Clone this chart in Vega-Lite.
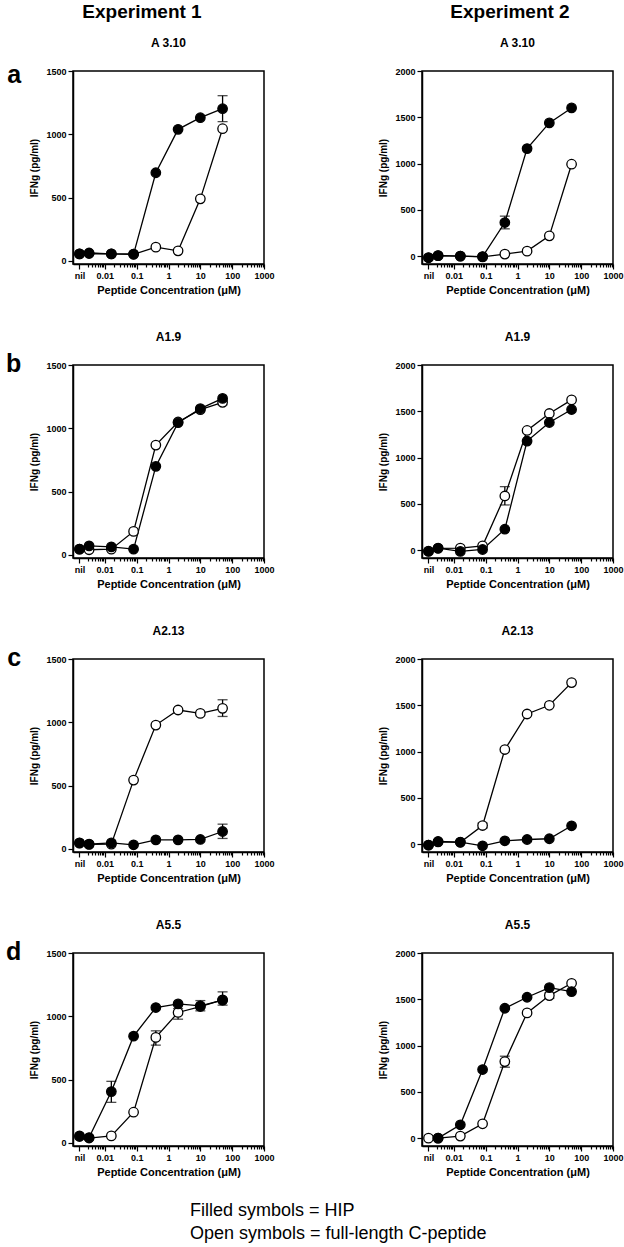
{
  "$schema": "https://vega.github.io/schema/vega-lite/v6.json",
  "background": "white",
  "padding": {"left": 5, "top": 3, "right": 5, "bottom": 5},
  "datasets": {
    "d": [
      {"exp":1,"clone":"A3.10","pep":"C","conc":0.0016,"v":55},
      {"exp":1,"clone":"A3.10","pep":"C","conc":0.0032,"v":58},
      {"exp":1,"clone":"A3.10","pep":"C","conc":0.016,"v":55},
      {"exp":1,"clone":"A3.10","pep":"C","conc":0.08,"v":52},
      {"exp":1,"clone":"A3.10","pep":"C","conc":0.4,"v":108},
      {"exp":1,"clone":"A3.10","pep":"C","conc":2,"v":79},
      {"exp":1,"clone":"A3.10","pep":"C","conc":10,"v":490},
      {"exp":1,"clone":"A3.10","pep":"C","conc":50,"v":1044},
      {"exp":1,"clone":"A3.10","pep":"HIP","conc":0.0016,"v":55},
      {"exp":1,"clone":"A3.10","pep":"HIP","conc":0.0032,"v":62},
      {"exp":1,"clone":"A3.10","pep":"HIP","conc":0.016,"v":55},
      {"exp":1,"clone":"A3.10","pep":"HIP","conc":0.08,"v":53},
      {"exp":1,"clone":"A3.10","pep":"HIP","conc":0.4,"v":696},
      {"exp":1,"clone":"A3.10","pep":"HIP","conc":2,"v":1039},
      {"exp":1,"clone":"A3.10","pep":"HIP","conc":10,"v":1131},
      {"exp":1,"clone":"A3.10","pep":"HIP","conc":50,"v":1202,"lo":1100,"hi":1305},

      {"exp":2,"clone":"A3.10","pep":"C","conc":0.0016,"v":-15},
      {"exp":2,"clone":"A3.10","pep":"C","conc":0.0032,"v":5},
      {"exp":2,"clone":"A3.10","pep":"C","conc":0.016,"v":0},
      {"exp":2,"clone":"A3.10","pep":"C","conc":0.08,"v":-8},
      {"exp":2,"clone":"A3.10","pep":"C","conc":0.4,"v":22},
      {"exp":2,"clone":"A3.10","pep":"C","conc":2,"v":54},
      {"exp":2,"clone":"A3.10","pep":"C","conc":10,"v":219},
      {"exp":2,"clone":"A3.10","pep":"C","conc":50,"v":993},
      {"exp":2,"clone":"A3.10","pep":"HIP","conc":0.0016,"v":-18},
      {"exp":2,"clone":"A3.10","pep":"HIP","conc":0.0032,"v":5},
      {"exp":2,"clone":"A3.10","pep":"HIP","conc":0.016,"v":0},
      {"exp":2,"clone":"A3.10","pep":"HIP","conc":0.08,"v":-5},
      {"exp":2,"clone":"A3.10","pep":"HIP","conc":0.4,"v":363,"lo":295,"hi":432},
      {"exp":2,"clone":"A3.10","pep":"HIP","conc":2,"v":1162},
      {"exp":2,"clone":"A3.10","pep":"HIP","conc":10,"v":1439},
      {"exp":2,"clone":"A3.10","pep":"HIP","conc":50,"v":1601},

      {"exp":1,"clone":"A1.9","pep":"C","conc":0.0016,"v":45},
      {"exp":1,"clone":"A1.9","pep":"C","conc":0.0032,"v":40},
      {"exp":1,"clone":"A1.9","pep":"C","conc":0.016,"v":45},
      {"exp":1,"clone":"A1.9","pep":"C","conc":0.08,"v":185},
      {"exp":1,"clone":"A1.9","pep":"C","conc":0.4,"v":867},
      {"exp":1,"clone":"A1.9","pep":"C","conc":2,"v":1050},
      {"exp":1,"clone":"A1.9","pep":"C","conc":10,"v":1147},
      {"exp":1,"clone":"A1.9","pep":"C","conc":50,"v":1205,"lo":1185,"hi":1225},
      {"exp":1,"clone":"A1.9","pep":"HIP","conc":0.0016,"v":45},
      {"exp":1,"clone":"A1.9","pep":"HIP","conc":0.0032,"v":71},
      {"exp":1,"clone":"A1.9","pep":"HIP","conc":0.016,"v":63},
      {"exp":1,"clone":"A1.9","pep":"HIP","conc":0.08,"v":45},
      {"exp":1,"clone":"A1.9","pep":"HIP","conc":0.4,"v":699},
      {"exp":1,"clone":"A1.9","pep":"HIP","conc":2,"v":1044},
      {"exp":1,"clone":"A1.9","pep":"HIP","conc":10,"v":1155},
      {"exp":1,"clone":"A1.9","pep":"HIP","conc":50,"v":1236},

      {"exp":2,"clone":"A1.9","pep":"C","conc":0.0016,"v":-10},
      {"exp":2,"clone":"A1.9","pep":"C","conc":0.0032,"v":20},
      {"exp":2,"clone":"A1.9","pep":"C","conc":0.016,"v":22},
      {"exp":2,"clone":"A1.9","pep":"C","conc":0.08,"v":47},
      {"exp":2,"clone":"A1.9","pep":"C","conc":0.4,"v":585,"lo":488,"hi":686},
      {"exp":2,"clone":"A1.9","pep":"C","conc":2,"v":1293},
      {"exp":2,"clone":"A1.9","pep":"C","conc":10,"v":1476},
      {"exp":2,"clone":"A1.9","pep":"C","conc":50,"v":1623},
      {"exp":2,"clone":"A1.9","pep":"HIP","conc":0.0016,"v":-14},
      {"exp":2,"clone":"A1.9","pep":"HIP","conc":0.0032,"v":22},
      {"exp":2,"clone":"A1.9","pep":"HIP","conc":0.016,"v":-14},
      {"exp":2,"clone":"A1.9","pep":"HIP","conc":0.08,"v":7},
      {"exp":2,"clone":"A1.9","pep":"HIP","conc":0.4,"v":226},
      {"exp":2,"clone":"A1.9","pep":"HIP","conc":2,"v":1178},
      {"exp":2,"clone":"A1.9","pep":"HIP","conc":10,"v":1379},
      {"exp":2,"clone":"A1.9","pep":"HIP","conc":50,"v":1519},

      {"exp":1,"clone":"A2.13","pep":"C","conc":0.0016,"v":45},
      {"exp":1,"clone":"A2.13","pep":"C","conc":0.0032,"v":35},
      {"exp":1,"clone":"A2.13","pep":"C","conc":0.016,"v":37},
      {"exp":1,"clone":"A2.13","pep":"C","conc":0.08,"v":543},
      {"exp":1,"clone":"A2.13","pep":"C","conc":0.4,"v":978},
      {"exp":1,"clone":"A2.13","pep":"C","conc":2,"v":1097},
      {"exp":1,"clone":"A2.13","pep":"C","conc":10,"v":1070},
      {"exp":1,"clone":"A2.13","pep":"C","conc":50,"v":1110,"lo":1046,"hi":1178},
      {"exp":1,"clone":"A2.13","pep":"HIP","conc":0.0016,"v":47},
      {"exp":1,"clone":"A2.13","pep":"HIP","conc":0.0032,"v":37},
      {"exp":1,"clone":"A2.13","pep":"HIP","conc":0.016,"v":47},
      {"exp":1,"clone":"A2.13","pep":"HIP","conc":0.08,"v":32},
      {"exp":1,"clone":"A2.13","pep":"HIP","conc":0.4,"v":71},
      {"exp":1,"clone":"A2.13","pep":"HIP","conc":2,"v":71},
      {"exp":1,"clone":"A2.13","pep":"HIP","conc":10,"v":74},
      {"exp":1,"clone":"A2.13","pep":"HIP","conc":50,"v":137,"lo":82,"hi":195},

      {"exp":2,"clone":"A2.13","pep":"C","conc":0.0016,"v":-10},
      {"exp":2,"clone":"A2.13","pep":"C","conc":0.0032,"v":25},
      {"exp":2,"clone":"A2.13","pep":"C","conc":0.016,"v":20},
      {"exp":2,"clone":"A2.13","pep":"C","conc":0.08,"v":201,"lo":175,"hi":228},
      {"exp":2,"clone":"A2.13","pep":"C","conc":0.4,"v":1022},
      {"exp":2,"clone":"A2.13","pep":"C","conc":2,"v":1406},
      {"exp":2,"clone":"A2.13","pep":"C","conc":10,"v":1500},
      {"exp":2,"clone":"A2.13","pep":"C","conc":50,"v":1745},
      {"exp":2,"clone":"A2.13","pep":"HIP","conc":0.0016,"v":-11},
      {"exp":2,"clone":"A2.13","pep":"HIP","conc":0.0032,"v":29},
      {"exp":2,"clone":"A2.13","pep":"HIP","conc":0.016,"v":22},
      {"exp":2,"clone":"A2.13","pep":"HIP","conc":0.08,"v":-18},
      {"exp":2,"clone":"A2.13","pep":"HIP","conc":0.4,"v":36},
      {"exp":2,"clone":"A2.13","pep":"HIP","conc":2,"v":50},
      {"exp":2,"clone":"A2.13","pep":"HIP","conc":10,"v":58},
      {"exp":2,"clone":"A2.13","pep":"HIP","conc":50,"v":198},

      {"exp":1,"clone":"A5.5","pep":"C","conc":0.0016,"v":50},
      {"exp":1,"clone":"A5.5","pep":"C","conc":0.0032,"v":38},
      {"exp":1,"clone":"A5.5","pep":"C","conc":0.016,"v":55},
      {"exp":1,"clone":"A5.5","pep":"C","conc":0.08,"v":242},
      {"exp":1,"clone":"A5.5","pep":"C","conc":0.4,"v":833,"lo":772,"hi":885},
      {"exp":1,"clone":"A5.5","pep":"C","conc":2,"v":1030,"lo":977,"hi":1061},
      {"exp":1,"clone":"A5.5","pep":"C","conc":10,"v":1077},
      {"exp":1,"clone":"A5.5","pep":"C","conc":50,"v":1130},
      {"exp":1,"clone":"A5.5","pep":"HIP","conc":0.0016,"v":55},
      {"exp":1,"clone":"A5.5","pep":"HIP","conc":0.0032,"v":42},
      {"exp":1,"clone":"A5.5","pep":"HIP","conc":0.016,"v":405,"lo":320,"hi":486},
      {"exp":1,"clone":"A5.5","pep":"HIP","conc":0.08,"v":843},
      {"exp":1,"clone":"A5.5","pep":"HIP","conc":0.4,"v":1069},
      {"exp":1,"clone":"A5.5","pep":"HIP","conc":2,"v":1098},
      {"exp":1,"clone":"A5.5","pep":"HIP","conc":10,"v":1082,"lo":1043,"hi":1124},
      {"exp":1,"clone":"A5.5","pep":"HIP","conc":50,"v":1127,"lo":1088,"hi":1193},

      {"exp":2,"clone":"A5.5","pep":"C","conc":0.0016,"v":0},
      {"exp":2,"clone":"A5.5","pep":"C","conc":0.0032,"v":0},
      {"exp":2,"clone":"A5.5","pep":"C","conc":0.016,"v":22},
      {"exp":2,"clone":"A5.5","pep":"C","conc":0.08,"v":155},
      {"exp":2,"clone":"A5.5","pep":"C","conc":0.4,"v":827,"lo":766,"hi":885},
      {"exp":2,"clone":"A5.5","pep":"C","conc":2,"v":1353},
      {"exp":2,"clone":"A5.5","pep":"C","conc":10,"v":1540,"lo":1510,"hi":1570},
      {"exp":2,"clone":"A5.5","pep":"C","conc":50,"v":1673},
      {"exp":2,"clone":"A5.5","pep":"HIP","conc":0.0032,"v":0},
      {"exp":2,"clone":"A5.5","pep":"HIP","conc":0.016,"v":144},
      {"exp":2,"clone":"A5.5","pep":"HIP","conc":0.08,"v":741},
      {"exp":2,"clone":"A5.5","pep":"HIP","conc":0.4,"v":1403},
      {"exp":2,"clone":"A5.5","pep":"HIP","conc":2,"v":1522},
      {"exp":2,"clone":"A5.5","pep":"HIP","conc":10,"v":1626},
      {"exp":2,"clone":"A5.5","pep":"HIP","conc":50,"v":1583}
    ]
  },
  "data": {"name": "d"},
  "title": {
    "text": ["Filled symbols = HIP", "Open symbols = full-length C-peptide"],
    "orient": "bottom", "anchor": "start", "align": "left", "frame": "bounds",
    "fontSize": 18, "fontWeight": "normal", "lineHeight": 23.5, "offset": 24, "dx": 184, "color": "black", "font": "Liberation Sans"
  },
  "spacing": 34,
  "vconcat": [
    {
      "title": {"text": "a", "orient": "left", "anchor": "end", "angle": 0, "align": "left", "baseline": "alphabetic", "dy": 80, "fontSize": 25, "fontWeight": "bold", "offset": 8, "color": "black"},
      "spacing": 103,
      "hconcat": [
        {
          "title": {"text": "Experiment 1", "fontSize": 19, "fontWeight": "bold", "anchor": "middle", "frame": "bounds", "offset": 14, "dx": -10, "color": "black"},
          "vconcat": [
            {
              "width": 191, "height": 193,
              "title": {"text": "A 3.10", "fontSize": 12, "fontWeight": "bold", "offset": 17, "anchor": "middle", "frame": "group", "color": "black"},
              "transform": [{"filter": "datum.exp == 1 && datum.clone == 'A3.10'"}],
              "encoding": {
                "x": {"field": "conc", "type": "quantitative", "scale": {"type": "log", "domain": [0.001, 1000], "nice": false},
                  "axis": {"title": "Peptide Concentration (μM)", "values": [0.0016,0.003,0.004,0.005,0.006,0.007,0.008,0.009,0.01,0.02,0.03,0.04,0.05,0.06,0.07,0.08,0.09,0.1,0.2,0.3,0.4,0.5,0.6,0.7,0.8,0.9,1,2,3,4,5,6,7,8,9,10,20,30,40,50,60,70,80,90,100,200,300,400,500,600,700,800,900,1000],
                    "labelExpr": "datum.value < 0.002 ? 'nil' : datum.value == 0.01 ? '0.01' : datum.value == 0.1 ? '0.1' : datum.value == 1 ? '1' : datum.value == 10 ? '10' : datum.value == 100 ? '100' : datum.value == 1000 ? '1000' : ''",
                    "tickSize": {"condition": {"test": "datum.value < 0.002 || datum.value == 0.01 || datum.value == 0.1 || datum.value == 1 || datum.value == 10 || datum.value == 100 || datum.value == 1000", "value": 5}, "value": 3}}},
                "y": {"field": "v", "type": "quantitative", "title": "IFNg (pg/ml)", "scale": {"domain": [-25, 1500], "nice": false, "zero": false}, "axis": {"values": [0, 500, 1000, 1500], "format": "d"}}
              },
              "layer": [
                {"mark": {"type": "line", "color": "black", "strokeWidth": 1.3}, "encoding": {"detail": {"field": "pep"}}},
                {"transform": [{"filter": "isValid(datum.lo)"}], "mark": {"type": "errorbar", "color": "black", "thickness": 1.3, "ticks": {"size": 10, "color": "black"}}, "encoding": {"y": {"field": "lo", "type": "quantitative", "title": "IFNg (pg/ml)"}, "y2": {"field": "hi"}}},
                {"mark": {"type": "point", "shape": "circle", "filled": true, "size": 90, "stroke": "black", "strokeWidth": 1.3, "opacity": 1}, "encoding": {"fill": {"field": "pep", "type": "nominal", "scale": {"domain": ["C", "HIP"], "range": ["white", "black"]}, "legend": null}}}
              ]
            }
          ]
        },
        {
          "title": {"text": "Experiment 2", "fontSize": 19, "fontWeight": "bold", "anchor": "middle", "frame": "bounds", "offset": 14, "dx": 9, "color": "black"},
          "vconcat": [
            {
              "width": 191, "height": 193,
              "title": {"text": "A 3.10", "fontSize": 12, "fontWeight": "bold", "offset": 17, "anchor": "middle", "frame": "group", "color": "black"},
              "transform": [{"filter": "datum.exp == 2 && datum.clone == 'A3.10'"}],
              "encoding": {
                "x": {"field": "conc", "type": "quantitative", "scale": {"type": "log", "domain": [0.001, 1000], "nice": false},
                  "axis": {"title": "Peptide Concentration (μM)", "values": [0.0016,0.003,0.004,0.005,0.006,0.007,0.008,0.009,0.01,0.02,0.03,0.04,0.05,0.06,0.07,0.08,0.09,0.1,0.2,0.3,0.4,0.5,0.6,0.7,0.8,0.9,1,2,3,4,5,6,7,8,9,10,20,30,40,50,60,70,80,90,100,200,300,400,500,600,700,800,900,1000],
                    "labelExpr": "datum.value < 0.002 ? 'nil' : datum.value == 0.01 ? '0.01' : datum.value == 0.1 ? '0.1' : datum.value == 1 ? '1' : datum.value == 10 ? '10' : datum.value == 100 ? '100' : datum.value == 1000 ? '1000' : ''",
                    "tickSize": {"condition": {"test": "datum.value < 0.002 || datum.value == 0.01 || datum.value == 0.1 || datum.value == 1 || datum.value == 10 || datum.value == 100 || datum.value == 1000", "value": 5}, "value": 3}}},
                "y": {"field": "v", "type": "quantitative", "title": "IFNg (pg/ml)", "scale": {"domain": [-85, 2000], "nice": false, "zero": false}, "axis": {"values": [0, 500, 1000, 1500, 2000], "format": "d"}}
              },
              "layer": [
                {"mark": {"type": "line", "color": "black", "strokeWidth": 1.3}, "encoding": {"detail": {"field": "pep"}}},
                {"transform": [{"filter": "isValid(datum.lo)"}], "mark": {"type": "errorbar", "color": "black", "thickness": 1.3, "ticks": {"size": 10, "color": "black"}}, "encoding": {"y": {"field": "lo", "type": "quantitative", "title": "IFNg (pg/ml)"}, "y2": {"field": "hi"}}},
                {"mark": {"type": "point", "shape": "circle", "filled": true, "size": 90, "stroke": "black", "strokeWidth": 1.3, "opacity": 1}, "encoding": {"fill": {"field": "pep", "type": "nominal", "scale": {"domain": ["C", "HIP"], "range": ["white", "black"]}, "legend": null}}}
              ]
            }
          ]
        }
      ]
    },
    {
      "title": {"text": "b", "orient": "left", "anchor": "end", "angle": 0, "align": "left", "baseline": "alphabetic", "dy": 42, "fontSize": 25, "fontWeight": "bold", "offset": 8, "color": "black"},
      "spacing": 103,
      "hconcat": [
        {
          "width": 191, "height": 193,
          "title": {"text": "A1.9", "fontSize": 12, "fontWeight": "bold", "offset": 17, "anchor": "middle", "frame": "group", "color": "black"},
          "transform": [{"filter": "datum.exp == 1 && datum.clone == 'A1.9'"}],
          "encoding": {
            "x": {"field": "conc", "type": "quantitative", "scale": {"type": "log", "domain": [0.001, 1000], "nice": false},
              "axis": {"title": "Peptide Concentration (μM)", "values": [0.0016,0.003,0.004,0.005,0.006,0.007,0.008,0.009,0.01,0.02,0.03,0.04,0.05,0.06,0.07,0.08,0.09,0.1,0.2,0.3,0.4,0.5,0.6,0.7,0.8,0.9,1,2,3,4,5,6,7,8,9,10,20,30,40,50,60,70,80,90,100,200,300,400,500,600,700,800,900,1000],
                "labelExpr": "datum.value < 0.002 ? 'nil' : datum.value == 0.01 ? '0.01' : datum.value == 0.1 ? '0.1' : datum.value == 1 ? '1' : datum.value == 10 ? '10' : datum.value == 100 ? '100' : datum.value == 1000 ? '1000' : ''",
                "tickSize": {"condition": {"test": "datum.value < 0.002 || datum.value == 0.01 || datum.value == 0.1 || datum.value == 1 || datum.value == 10 || datum.value == 100 || datum.value == 1000", "value": 5}, "value": 3}}},
            "y": {"field": "v", "type": "quantitative", "title": "IFNg (pg/ml)", "scale": {"domain": [-25, 1500], "nice": false, "zero": false}, "axis": {"values": [0, 500, 1000, 1500], "format": "d"}}
          },
          "layer": [
            {"mark": {"type": "line", "color": "black", "strokeWidth": 1.3}, "encoding": {"detail": {"field": "pep"}}},
            {"transform": [{"filter": "isValid(datum.lo)"}], "mark": {"type": "errorbar", "color": "black", "thickness": 1.3, "ticks": {"size": 10, "color": "black"}}, "encoding": {"y": {"field": "lo", "type": "quantitative", "title": "IFNg (pg/ml)"}, "y2": {"field": "hi"}}},
            {"mark": {"type": "point", "shape": "circle", "filled": true, "size": 90, "stroke": "black", "strokeWidth": 1.3, "opacity": 1}, "encoding": {"fill": {"field": "pep", "type": "nominal", "scale": {"domain": ["C", "HIP"], "range": ["white", "black"]}, "legend": null}}}
          ]
        },
        {
          "width": 191, "height": 193,
          "title": {"text": "A1.9", "fontSize": 12, "fontWeight": "bold", "offset": 17, "anchor": "middle", "frame": "group", "color": "black"},
          "transform": [{"filter": "datum.exp == 2 && datum.clone == 'A1.9'"}],
          "encoding": {
            "x": {"field": "conc", "type": "quantitative", "scale": {"type": "log", "domain": [0.001, 1000], "nice": false},
              "axis": {"title": "Peptide Concentration (μM)", "values": [0.0016,0.003,0.004,0.005,0.006,0.007,0.008,0.009,0.01,0.02,0.03,0.04,0.05,0.06,0.07,0.08,0.09,0.1,0.2,0.3,0.4,0.5,0.6,0.7,0.8,0.9,1,2,3,4,5,6,7,8,9,10,20,30,40,50,60,70,80,90,100,200,300,400,500,600,700,800,900,1000],
                "labelExpr": "datum.value < 0.002 ? 'nil' : datum.value == 0.01 ? '0.01' : datum.value == 0.1 ? '0.1' : datum.value == 1 ? '1' : datum.value == 10 ? '10' : datum.value == 100 ? '100' : datum.value == 1000 ? '1000' : ''",
                "tickSize": {"condition": {"test": "datum.value < 0.002 || datum.value == 0.01 || datum.value == 0.1 || datum.value == 1 || datum.value == 10 || datum.value == 100 || datum.value == 1000", "value": 5}, "value": 3}}},
            "y": {"field": "v", "type": "quantitative", "title": "IFNg (pg/ml)", "scale": {"domain": [-85, 2000], "nice": false, "zero": false}, "axis": {"values": [0, 500, 1000, 1500, 2000], "format": "d"}}
          },
          "layer": [
            {"mark": {"type": "line", "color": "black", "strokeWidth": 1.3}, "encoding": {"detail": {"field": "pep"}}},
            {"transform": [{"filter": "isValid(datum.lo)"}], "mark": {"type": "errorbar", "color": "black", "thickness": 1.3, "ticks": {"size": 10, "color": "black"}}, "encoding": {"y": {"field": "lo", "type": "quantitative", "title": "IFNg (pg/ml)"}, "y2": {"field": "hi"}}},
            {"mark": {"type": "point", "shape": "circle", "filled": true, "size": 90, "stroke": "black", "strokeWidth": 1.3, "opacity": 1}, "encoding": {"fill": {"field": "pep", "type": "nominal", "scale": {"domain": ["C", "HIP"], "range": ["white", "black"]}, "legend": null}}}
          ]
        }
      ]
    },
    {
      "title": {"text": "c", "orient": "left", "anchor": "end", "angle": 0, "align": "left", "baseline": "alphabetic", "dy": 42, "fontSize": 25, "fontWeight": "bold", "offset": 8, "color": "black"},
      "spacing": 103,
      "hconcat": [
        {
          "width": 191, "height": 193,
          "title": {"text": "A2.13", "fontSize": 12, "fontWeight": "bold", "offset": 17, "anchor": "middle", "frame": "group", "color": "black"},
          "transform": [{"filter": "datum.exp == 1 && datum.clone == 'A2.13'"}],
          "encoding": {
            "x": {"field": "conc", "type": "quantitative", "scale": {"type": "log", "domain": [0.001, 1000], "nice": false},
              "axis": {"title": "Peptide Concentration (μM)", "values": [0.0016,0.003,0.004,0.005,0.006,0.007,0.008,0.009,0.01,0.02,0.03,0.04,0.05,0.06,0.07,0.08,0.09,0.1,0.2,0.3,0.4,0.5,0.6,0.7,0.8,0.9,1,2,3,4,5,6,7,8,9,10,20,30,40,50,60,70,80,90,100,200,300,400,500,600,700,800,900,1000],
                "labelExpr": "datum.value < 0.002 ? 'nil' : datum.value == 0.01 ? '0.01' : datum.value == 0.1 ? '0.1' : datum.value == 1 ? '1' : datum.value == 10 ? '10' : datum.value == 100 ? '100' : datum.value == 1000 ? '1000' : ''",
                "tickSize": {"condition": {"test": "datum.value < 0.002 || datum.value == 0.01 || datum.value == 0.1 || datum.value == 1 || datum.value == 10 || datum.value == 100 || datum.value == 1000", "value": 5}, "value": 3}}},
            "y": {"field": "v", "type": "quantitative", "title": "IFNg (pg/ml)", "scale": {"domain": [-25, 1500], "nice": false, "zero": false}, "axis": {"values": [0, 500, 1000, 1500], "format": "d"}}
          },
          "layer": [
            {"mark": {"type": "line", "color": "black", "strokeWidth": 1.3}, "encoding": {"detail": {"field": "pep"}}},
            {"transform": [{"filter": "isValid(datum.lo)"}], "mark": {"type": "errorbar", "color": "black", "thickness": 1.3, "ticks": {"size": 10, "color": "black"}}, "encoding": {"y": {"field": "lo", "type": "quantitative", "title": "IFNg (pg/ml)"}, "y2": {"field": "hi"}}},
            {"mark": {"type": "point", "shape": "circle", "filled": true, "size": 90, "stroke": "black", "strokeWidth": 1.3, "opacity": 1}, "encoding": {"fill": {"field": "pep", "type": "nominal", "scale": {"domain": ["C", "HIP"], "range": ["white", "black"]}, "legend": null}}}
          ]
        },
        {
          "width": 191, "height": 193,
          "title": {"text": "A2.13", "fontSize": 12, "fontWeight": "bold", "offset": 17, "anchor": "middle", "frame": "group", "color": "black"},
          "transform": [{"filter": "datum.exp == 2 && datum.clone == 'A2.13'"}],
          "encoding": {
            "x": {"field": "conc", "type": "quantitative", "scale": {"type": "log", "domain": [0.001, 1000], "nice": false},
              "axis": {"title": "Peptide Concentration (μM)", "values": [0.0016,0.003,0.004,0.005,0.006,0.007,0.008,0.009,0.01,0.02,0.03,0.04,0.05,0.06,0.07,0.08,0.09,0.1,0.2,0.3,0.4,0.5,0.6,0.7,0.8,0.9,1,2,3,4,5,6,7,8,9,10,20,30,40,50,60,70,80,90,100,200,300,400,500,600,700,800,900,1000],
                "labelExpr": "datum.value < 0.002 ? 'nil' : datum.value == 0.01 ? '0.01' : datum.value == 0.1 ? '0.1' : datum.value == 1 ? '1' : datum.value == 10 ? '10' : datum.value == 100 ? '100' : datum.value == 1000 ? '1000' : ''",
                "tickSize": {"condition": {"test": "datum.value < 0.002 || datum.value == 0.01 || datum.value == 0.1 || datum.value == 1 || datum.value == 10 || datum.value == 100 || datum.value == 1000", "value": 5}, "value": 3}}},
            "y": {"field": "v", "type": "quantitative", "title": "IFNg (pg/ml)", "scale": {"domain": [-85, 2000], "nice": false, "zero": false}, "axis": {"values": [0, 500, 1000, 1500, 2000], "format": "d"}}
          },
          "layer": [
            {"mark": {"type": "line", "color": "black", "strokeWidth": 1.3}, "encoding": {"detail": {"field": "pep"}}},
            {"transform": [{"filter": "isValid(datum.lo)"}], "mark": {"type": "errorbar", "color": "black", "thickness": 1.3, "ticks": {"size": 10, "color": "black"}}, "encoding": {"y": {"field": "lo", "type": "quantitative", "title": "IFNg (pg/ml)"}, "y2": {"field": "hi"}}},
            {"mark": {"type": "point", "shape": "circle", "filled": true, "size": 90, "stroke": "black", "strokeWidth": 1.3, "opacity": 1}, "encoding": {"fill": {"field": "pep", "type": "nominal", "scale": {"domain": ["C", "HIP"], "range": ["white", "black"]}, "legend": null}}}
          ]
        }
      ]
    },
    {
      "title": {"text": "d", "orient": "left", "anchor": "end", "angle": 0, "align": "left", "baseline": "alphabetic", "dy": 42, "fontSize": 25, "fontWeight": "bold", "offset": 8, "color": "black"},
      "spacing": 103,
      "hconcat": [
        {
          "width": 191, "height": 193,
          "title": {"text": "A5.5", "fontSize": 12, "fontWeight": "bold", "offset": 17, "anchor": "middle", "frame": "group", "color": "black"},
          "transform": [{"filter": "datum.exp == 1 && datum.clone == 'A5.5'"}],
          "encoding": {
            "x": {"field": "conc", "type": "quantitative", "scale": {"type": "log", "domain": [0.001, 1000], "nice": false},
              "axis": {"title": "Peptide Concentration (μM)", "values": [0.0016,0.003,0.004,0.005,0.006,0.007,0.008,0.009,0.01,0.02,0.03,0.04,0.05,0.06,0.07,0.08,0.09,0.1,0.2,0.3,0.4,0.5,0.6,0.7,0.8,0.9,1,2,3,4,5,6,7,8,9,10,20,30,40,50,60,70,80,90,100,200,300,400,500,600,700,800,900,1000],
                "labelExpr": "datum.value < 0.002 ? 'nil' : datum.value == 0.01 ? '0.01' : datum.value == 0.1 ? '0.1' : datum.value == 1 ? '1' : datum.value == 10 ? '10' : datum.value == 100 ? '100' : datum.value == 1000 ? '1000' : ''",
                "tickSize": {"condition": {"test": "datum.value < 0.002 || datum.value == 0.01 || datum.value == 0.1 || datum.value == 1 || datum.value == 10 || datum.value == 100 || datum.value == 1000", "value": 5}, "value": 3}}},
            "y": {"field": "v", "type": "quantitative", "title": "IFNg (pg/ml)", "scale": {"domain": [-25, 1500], "nice": false, "zero": false}, "axis": {"values": [0, 500, 1000, 1500], "format": "d"}}
          },
          "layer": [
            {"mark": {"type": "line", "color": "black", "strokeWidth": 1.3}, "encoding": {"detail": {"field": "pep"}}},
            {"transform": [{"filter": "isValid(datum.lo)"}], "mark": {"type": "errorbar", "color": "black", "thickness": 1.3, "ticks": {"size": 10, "color": "black"}}, "encoding": {"y": {"field": "lo", "type": "quantitative", "title": "IFNg (pg/ml)"}, "y2": {"field": "hi"}}},
            {"mark": {"type": "point", "shape": "circle", "filled": true, "size": 90, "stroke": "black", "strokeWidth": 1.3, "opacity": 1}, "encoding": {"fill": {"field": "pep", "type": "nominal", "scale": {"domain": ["C", "HIP"], "range": ["white", "black"]}, "legend": null}}}
          ]
        },
        {
          "width": 191, "height": 193,
          "title": {"text": "A5.5", "fontSize": 12, "fontWeight": "bold", "offset": 17, "anchor": "middle", "frame": "group", "color": "black"},
          "transform": [{"filter": "datum.exp == 2 && datum.clone == 'A5.5'"}],
          "encoding": {
            "x": {"field": "conc", "type": "quantitative", "scale": {"type": "log", "domain": [0.001, 1000], "nice": false},
              "axis": {"title": "Peptide Concentration (μM)", "values": [0.0016,0.003,0.004,0.005,0.006,0.007,0.008,0.009,0.01,0.02,0.03,0.04,0.05,0.06,0.07,0.08,0.09,0.1,0.2,0.3,0.4,0.5,0.6,0.7,0.8,0.9,1,2,3,4,5,6,7,8,9,10,20,30,40,50,60,70,80,90,100,200,300,400,500,600,700,800,900,1000],
                "labelExpr": "datum.value < 0.002 ? 'nil' : datum.value == 0.01 ? '0.01' : datum.value == 0.1 ? '0.1' : datum.value == 1 ? '1' : datum.value == 10 ? '10' : datum.value == 100 ? '100' : datum.value == 1000 ? '1000' : ''",
                "tickSize": {"condition": {"test": "datum.value < 0.002 || datum.value == 0.01 || datum.value == 0.1 || datum.value == 1 || datum.value == 10 || datum.value == 100 || datum.value == 1000", "value": 5}, "value": 3}}},
            "y": {"field": "v", "type": "quantitative", "title": "IFNg (pg/ml)", "scale": {"domain": [-85, 2000], "nice": false, "zero": false}, "axis": {"values": [0, 500, 1000, 1500, 2000], "format": "d"}}
          },
          "layer": [
            {"mark": {"type": "line", "color": "black", "strokeWidth": 1.3}, "encoding": {"detail": {"field": "pep"}}},
            {"transform": [{"filter": "isValid(datum.lo)"}], "mark": {"type": "errorbar", "color": "black", "thickness": 1.3, "ticks": {"size": 10, "color": "black"}}, "encoding": {"y": {"field": "lo", "type": "quantitative", "title": "IFNg (pg/ml)"}, "y2": {"field": "hi"}}},
            {"mark": {"type": "point", "shape": "circle", "filled": true, "size": 90, "stroke": "black", "strokeWidth": 1.3, "opacity": 1}, "encoding": {"fill": {"field": "pep", "type": "nominal", "scale": {"domain": ["C", "HIP"], "range": ["white", "black"]}, "legend": null}}}
          ]
        }
      ]
    }
  ],
  "config": {
    "font": "Liberation Sans",
    "view": {"stroke": "black", "strokeWidth": 1.5},
    "title": {"color": "black", "font": "Liberation Sans"},
    "axis": {"grid": false, "domainColor": "black", "domainWidth": 1.5, "tickColor": "black", "tickWidth": 1.2, "labelColor": "black", "titleColor": "black", "labelFont": "Liberation Sans", "titleFont": "Liberation Sans", "labelFontWeight": "bold", "titleFontWeight": "bold", "labelFontSize": 9},
    "axisX": {"titleFontSize": 11, "labelPadding": 2, "titlePadding": 4, "labelOverlap": false, "labelFlush": false, "labelBound": false},
    "axisY": {"titleFontSize": 10, "tickSize": 5, "labelPadding": 2, "titlePadding": 6, "labelOverlap": false, "labelFlush": false}
  }
}
